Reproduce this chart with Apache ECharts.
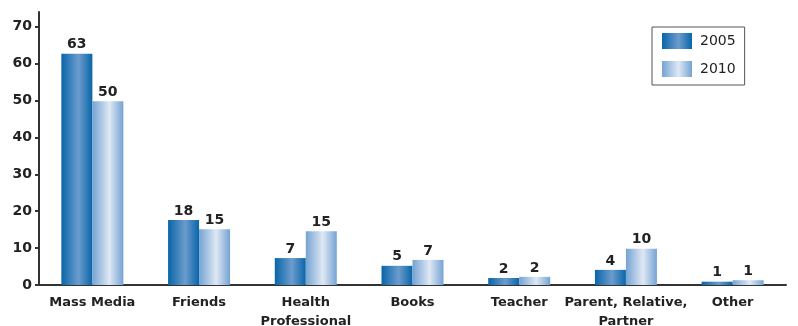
<!DOCTYPE html>
<html>
<head>
<meta charset="utf-8">
<script src="https://cdn.jsdelivr.net/npm/echarts@6/dist/echarts.min.js"></script>
<style>
  html, body { margin: 0; padding: 0; background: #fff; }
  #chart { width: 798px; height: 326px; }
</style>
</head>
<body>
<div id="chart"></div>
<script>
// categories and values
var categories = ['Mass Media', 'Friends', 'Health\nProfessional', 'Books', 'Teacher', 'Parent, Relative,\nPartner', 'Other'];
var values2005 = [62.7, 17.6, 7.3, 5.2, 1.9, 4.1, 0.9];
var values2010 = [49.8, 15.1, 14.6, 6.8, 2.2, 9.8, 1.3];
var seriesNames = ['2005', '2010'];

var myChart = echarts.init(document.getElementById('chart'), null, {renderer: 'canvas'});

function grad(edge, mid) {
    return new echarts.graphic.LinearGradient(0, 0, 1, 0, [
        {offset: 0, color: edge},
        {offset: 0.55, color: mid},
        {offset: 1, color: edge}
    ]);
}

var labelStyle = {
    show: true,
    position: 'top',
    distance: 2,
    color: '#222',
    fontFamily: 'DejaVu Sans',
    fontWeight: 'bold',
    fontSize: 14,
    formatter: function (p) { return Math.round(p.value); }
};

var option = {
    animation: false,
    grid: {left: 39, right: 12, top: 12, bottom: 41, outerBoundsMode: 'none'},
    legend: {
        data: seriesNames,
        orient: 'vertical',
        left: 652,
        top: 27,
        padding: [6, 9, 8, 10],
        itemWidth: 30,
        itemHeight: 16,
        itemGap: 12,
        icon: 'rect',
        borderColor: '#555',
        borderWidth: 1,
        textStyle: {fontFamily: 'DejaVu Sans', fontSize: 14, color: '#222', padding: [0, 0, 0, 3]}
    },
    xAxis: {
        type: 'category',
        data: categories,
        axisLine: {lineStyle: {color: '#333', width: 2}},
        axisTick: {show: false},
        axisLabel: {
            interval: 0,
            color: '#222',
            fontFamily: 'DejaVu Sans',
            fontWeight: 'bold',
            fontSize: 13,
            lineHeight: 19,
            margin: 8
        }
    },
    yAxis: {
        type: 'value',
        min: 0,
        max: 74,
        interval: 10,
        splitLine: {show: false},
        axisLine: {show: true, lineStyle: {color: '#333', width: 2}},
        axisTick: {show: true, length: 4, lineStyle: {color: '#333', width: 2}},
        axisLabel: {
            showMaxLabel: false,
            color: '#222',
            fontFamily: 'DejaVu Sans',
            fontWeight: 'bold',
            fontSize: 14,
            margin: 7
        }
    },
    series: [
        {
            name: '2005',
            type: 'bar',
            data: values2005,
            barWidth: 31,
            barGap: '0%',
            itemStyle: {color: grad('#0865a9', '#6c9ccd')},
            label: labelStyle
        },
        {
            name: '2010',
            type: 'bar',
            data: values2010,
            barWidth: 31,
            itemStyle: {color: grad('#74a3d3', '#dfe8f4')},
            label: labelStyle
        }
    ]
};

myChart.setOption(option);
</script>
</body>
</html>
